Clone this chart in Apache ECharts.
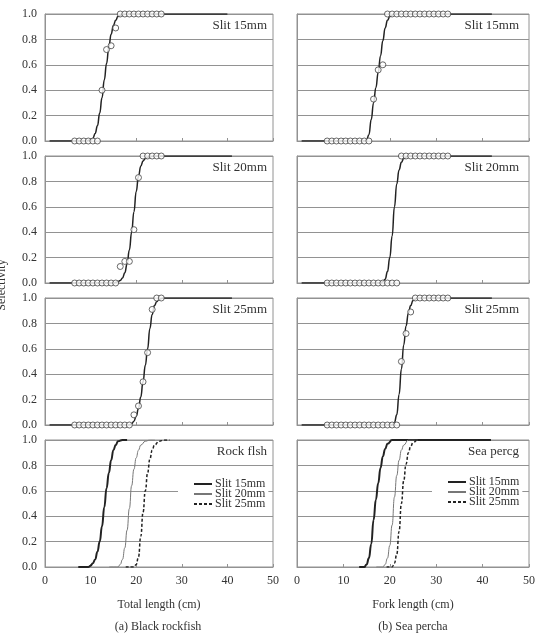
<!DOCTYPE html>
<html>
<head>
<meta charset="utf-8">
<script src="https://cdn.jsdelivr.net/npm/echarts@6/dist/echarts.min.js"></script>
<style>
  html, body { margin: 0; padding: 0; background: #fff; }
  #main { width: 538px; height: 640px; }
</style>
</head>
<body>
<div id="main"></div>
<script>
// 体长组中值 (cm)
var rockLen = [6.5, 7.5, 8.5, 9.5, 10.5, 11.5, 12.5, 13.5, 14.5, 15.5, 16.5, 17.5, 18.5, 19.5, 20.5, 21.5, 22.5, 23.5, 24.5, 25.5];
var perchLen = [6.5, 7.5, 8.5, 9.5, 10.5, 11.5, 12.5, 13.5, 14.5, 15.5, 16.5, 17.5, 18.5, 19.5, 20.5, 21.5, 22.5, 23.5, 24.5, 25.5, 26.5, 27.5, 28.5, 29.5, 30.5, 31.5, 32.5];

// 观测选择率
var rock15Obs = [0, 0, 0, 0, 0, 0, 0.40, 0.72, 0.75, 0.89, 1, 1, 1, 1, 1, 1, 1, 1, 1, 1];
var rock20Obs = [0, 0, 0, 0, 0, 0, 0, 0, 0, 0, 0.13, 0.17, 0.17, 0.42, 0.83, 1, 1, 1, 1, 1];
var rock25Obs = [0, 0, 0, 0, 0, 0, 0, 0, 0, 0, 0, 0, 0, 0.08, 0.15, 0.34, 0.57, 0.91, 1, 1];
var perch15Obs = [0, 0, 0, 0, 0, 0, 0, 0, 0, 0, 0.33, 0.56, 0.60, 1, 1, 1, 1, 1, 1, 1, 1, 1, 1, 1, 1, 1, 1];
var perch20Obs = [0, 0, 0, 0, 0, 0, 0, 0, 0, 0, 0, 0, 0, 0, 0, 0, 1, 1, 1, 1, 1, 1, 1, 1, 1, 1, 1];
var perch25Obs = [0, 0, 0, 0, 0, 0, 0, 0, 0, 0, 0, 0, 0, 0, 0, 0, 0.50, 0.72, 0.89, 1, 1, 1, 1, 1, 1, 1, 1];

// 拟合曲线 [体长, 选择率]
var rock15Fit = [[1, 0], [9, 0], [10, 0.01], [10.5, 0.02], [11, 0.06], [11.5, 0.12], [12, 0.22], [12.5, 0.34], [13, 0.48], [13.5, 0.61], [14, 0.74], [14.5, 0.84], [15, 0.91], [15.5, 0.95], [16, 0.98], [17, 0.995], [18, 1], [40, 1]];
var rock20Fit = [[1, 0], [15, 0], [16, 0.01], [16.5, 0.02], [17, 0.04], [17.5, 0.08], [18, 0.15], [18.5, 0.26], [19, 0.4], [19.5, 0.56], [20, 0.72], [20.5, 0.84], [21, 0.92], [21.5, 0.96], [22, 0.98], [23, 0.995], [24, 1], [41, 1]];
var rock25Fit = [[1, 0], [18.5, 0], [19, 0.01], [19.5, 0.03], [20, 0.07], [20.5, 0.13], [21, 0.22], [21.5, 0.34], [22, 0.47], [22.5, 0.6], [23, 0.76], [23.5, 0.87], [24, 0.94], [24.5, 0.97], [25, 0.99], [26, 1], [41, 1]];
var perch15Fit = [[1, 0], [14.5, 0], [15, 0.01], [15.5, 0.05], [16, 0.17], [16.5, 0.3], [17, 0.42], [17.5, 0.54], [18, 0.67], [18.5, 0.79], [19, 0.89], [19.5, 0.95], [20, 0.98], [21, 1], [42, 1]];
var perch20Fit = [[1, 0], [18, 0], [18.5, 0.01], [19, 0.03], [19.5, 0.09], [20, 0.2], [20.5, 0.37], [21, 0.6], [21.5, 0.78], [22, 0.89], [22.5, 0.95], [23, 0.98], [24, 1], [42, 1]];
var perch25Fit = [[1, 0], [20.5, 0], [21, 0.02], [21.5, 0.08], [22, 0.24], [22.5, 0.44], [23, 0.63], [23.5, 0.78], [24, 0.88], [24.5, 0.94], [25, 0.98], [26, 1], [42, 1]];

// 汇总图曲线
var sumRock15 = [[7.3, 0], [9.5, 0], [10, 0.01], [10.5, 0.03], [11, 0.06], [11.5, 0.12], [12, 0.2], [12.5, 0.32], [13, 0.47], [13.5, 0.62], [14, 0.74], [14.5, 0.84], [15, 0.92], [15.5, 0.96], [16, 0.99], [17, 1], [18, 1]];
var sumRock20 = [[14.1, 0], [16, 0], [16.5, 0.02], [17, 0.06], [17.5, 0.15], [18, 0.29], [18.5, 0.46], [19, 0.64], [19.5, 0.77], [20, 0.86], [20.5, 0.92], [21, 0.96], [22, 0.99], [23, 1], [24.1, 1]];
var sumRock25 = [[17.7, 0], [19.5, 0], [20, 0.02], [20.5, 0.08], [21, 0.24], [21.5, 0.43], [22, 0.6], [22.5, 0.74], [23, 0.85], [23.5, 0.92], [24, 0.96], [25, 0.99], [26, 1], [27.3, 1]];
var sumPerch15 = [[13.4, 0], [14.5, 0], [15, 0.02], [15.5, 0.07], [16, 0.18], [16.5, 0.37], [17, 0.53], [17.5, 0.66], [18, 0.78], [18.5, 0.87], [19, 0.93], [19.5, 0.97], [20.5, 1], [41.8, 1]];
var sumPerch20 = [[17.1, 0], [18.5, 0], [19, 0.02], [19.5, 0.07], [20, 0.17], [20.5, 0.33], [21, 0.55], [21.5, 0.72], [22, 0.84], [22.5, 0.92], [23, 0.96], [24, 1], [26, 1]];
var sumPerch25 = [[19.3, 0], [20.5, 0], [21, 0.03], [21.5, 0.1], [22, 0.28], [22.5, 0.5], [23, 0.68], [23.5, 0.81], [24, 0.9], [24.5, 0.95], [25, 0.98], [26, 1], [27, 1]];

var panelLabels = ['Slit 15mm', 'Slit 20mm', 'Slit 25mm'];
var sumLabels = ['Rock flsh', 'Sea percg'];
var xNames = ['Total length (cm)', 'Fork length (cm)'];
var captions = ['(a) Black rockfish', '(b) Sea percha'];
var legendNames = ['Slit 15mm', 'Slit 20mm', 'Slit 25mm'];

var FONT = 'Liberation Serif';
var GRAY = '#929292';
var tops = [14, 156, 298, 440];
var colLeft = [45, 297];
var colRight = [265, 9];

function zip(xs, ys) {
	return xs.map(function (x, i) { return [x, ys[i]]; });
}

var grids = [], xAxes = [], yAxes = [], series = [], titles = [];
var fits = [[rock15Fit, rock20Fit, rock25Fit], [perch15Fit, perch20Fit, perch25Fit]];
var obs = [[rock15Obs, rock20Obs, rock25Obs], [perch15Obs, perch20Obs, perch25Obs]];
var lens = [rockLen, perchLen];
var sums = [[sumRock15, sumRock20, sumRock25], [sumPerch15, sumPerch20, sumPerch25]];

for (var c = 0; c < 2; c++) {
	for (var r = 0; r < 4; r++) {
		var idx = grids.length;
		var isBottom = r === 3;
		grids.push({
			left: colLeft[c], right: colRight[c], top: tops[r], height: 127,
			show: true, borderColor: GRAY, borderWidth: 1, backgroundColor: '#fff'
		});
		xAxes.push({
			gridIndex: idx, type: 'value', min: 0, max: 50, interval: 10,
			axisLine: { lineStyle: { color: GRAY } },
			axisTick: { show: true, inside: true, length: 3, lineStyle: { color: GRAY } },
			splitLine: { show: false },
			axisLabel: { show: isBottom, fontFamily: FONT, fontSize: 12, color: '#333', margin: 8 },
			name: isBottom ? xNames[c] : '',
			nameLocation: 'middle', nameGap: 32,
			nameTextStyle: { fontFamily: FONT, fontSize: 12, color: '#333' }
		});
		yAxes.push({
			gridIndex: idx, type: 'value', min: 0, max: 1, interval: 0.2,
			axisLine: { show: true, lineStyle: { color: GRAY } },
			axisTick: { show: false },
			splitLine: { show: true, lineStyle: { color: GRAY, width: 1 } },
			axisLabel: {
				show: c === 0, fontFamily: FONT, fontSize: 12, color: '#333', margin: 8,
				formatter: function (v) { return v.toFixed(1); }
			}
		});
		titles.push({
			text: isBottom ? sumLabels[c] : panelLabels[r],
			right: c === 0 ? 271 : 19, top: tops[r] + 5, padding: 0,
			textStyle: { fontFamily: FONT, fontSize: 13, fontWeight: 'normal', color: '#333' }
		});
		if (!isBottom) {
			series.push({
				type: 'line', xAxisIndex: idx, yAxisIndex: idx,
				data: fits[c][r], showSymbol: false, symbol: 'none',
				smooth: 0.5, smoothMonotone: 'x',
				lineStyle: { color: '#222', width: 1.5 }, z: 3, silent: true
			});
			series.push({
				type: 'scatter', xAxisIndex: idx, yAxisIndex: idx,
				data: zip(lens[c], obs[c][r]), symbol: 'circle', symbolSize: 6,
				itemStyle: { color: '#fff', borderColor: '#444', borderWidth: 1 }, z: 4
			});
		} else {
			var styles = [
				{ color: '#222', width: 2, type: 'solid' },
				{ color: '#777', width: 1, type: 'solid' },
				{ color: '#222', width: 1.5, type: [3, 2] }
			];
			for (var k = 0; k < 3; k++) {
				series.push({
					name: legendNames[k], type: 'line', xAxisIndex: idx, yAxisIndex: idx,
					data: sums[c][k], showSymbol: false, symbol: 'none',
					smooth: 0.5, smoothMonotone: 'x',
					lineStyle: styles[k], itemStyle: { color: styles[k].color }, z: 3
				});
			}
		}
	}
}

var legends = [178, 432].map(function (l, i) {
	return {
		left: l, top: i === 0 ? 476 : 474, orient: 'vertical',
		data: legendNames, selectedMode: false,
		itemGap: -2, itemWidth: 18, itemHeight: 10,
		padding: [2, 3, 2, 15], backgroundColor: '#fff',
		itemStyle: { opacity: 0 },
		textStyle: { fontFamily: FONT, fontSize: 12, color: '#333', lineHeight: 10, padding: [0, 0, 0, -2] }
	};
});

var graphics = [
	{ type: 'text', x: 158, y: 627, style: { text: captions[0], font: '12px "Liberation Serif"', fill: '#333', textAlign: 'center', textVerticalAlign: 'middle' } },
	{ type: 'text', x: 413, y: 627, style: { text: captions[1], font: '12px "Liberation Serif"', fill: '#333', textAlign: 'center', textVerticalAlign: 'middle' } },
	{ type: 'text', x: 2, y: 285, rotation: Math.PI / 2, style: { text: 'Selectivity', font: '12px "Liberation Serif"', fill: '#333', textAlign: 'center', textVerticalAlign: 'middle' } }
];

var chart = echarts.init(document.getElementById('main'), null, { renderer: 'canvas' });
chart.setOption({
	animation: false,
	backgroundColor: '#fff',
	title: titles,
	legend: legends,
	grid: grids,
	xAxis: xAxes,
	yAxis: yAxes,
	series: series,
	graphic: graphics
});
</script>
</body>
</html>
